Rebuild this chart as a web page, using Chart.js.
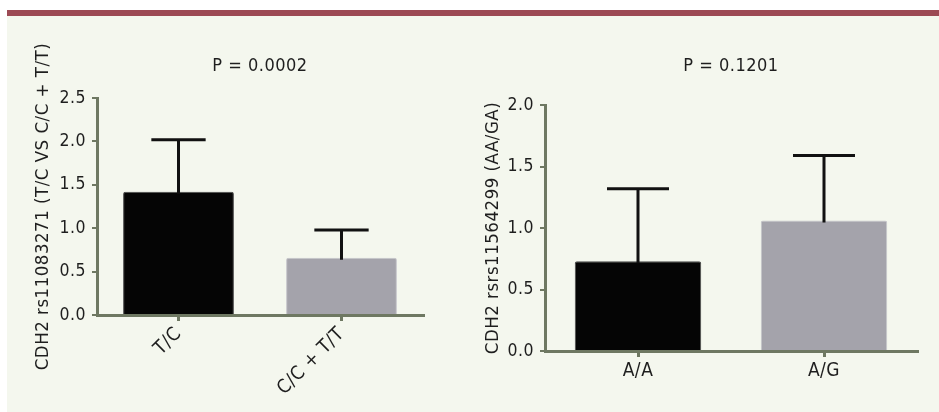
<!DOCTYPE html>
<html>
<head>
<meta charset="utf-8">
<script src="https://cdn.jsdelivr.net/npm/chart.js@4.4.1/dist/chart.umd.min.js"></script>
<style>
    html, body { margin: 0; padding: 0; background: #ffffff; }
    #page { position: relative; width: 939px; height: 412px; overflow: hidden; background: #ffffff; }
    #topbar { position: absolute; left: 7px; top: 10px; width: 932px; height: 6px; background: #9c4a54; }
    #panel { position: absolute; left: 7px; top: 16px; width: 932px; height: 396px; background: #f4f7ee; }
    canvas { position: absolute; top: 16px; }
    #left-chart { left: 0; }
    #right-chart { left: 470px; }
</style>
</head>
<body>
<div id="page">
    <div id="topbar"></div>
    <div id="panel"></div>
    <canvas id="left-chart" width="470" height="396"></canvas>
    <canvas id="right-chart" width="469" height="396"></canvas>
</div>
<script>
// Left panel: CDH2 rs11083271
const leftCategories = ['T/C', 'C/C + T/T'];
const leftMeans = [1.42, 0.66];
const leftErrors = [0.60, 0.32];
const leftTicks = ['0.0', '0.5', '1.0', '1.5', '2.0', '2.5'];
const leftTitle = 'P = 0.0002';
const leftAxisTitle = 'CDH2 rs11083271 (T/C VS C/C + T/T)';

// Right panel: CDH2 rs11564299
const rightCategories = ['A/A', 'A/G'];
const rightMeans = [0.73, 1.06];
const rightErrors = [0.59, 0.53];
const rightTicks = ['0.0', '0.5', '1.0', '1.5', '2.0'];
const rightTitle = 'P = 0.1201';
const rightAxisTitle = 'CDH2 rsrs11564299 (AA/GA)';

const FONT = "'DejaVu Sans Condensed', 'Liberation Sans Narrow', sans-serif";
const AXIS = '#6e7862';
const TEXT = '#1e1e1e';

// the figure's typeface has slightly loose tracking
const tracking = {
    id: 'tracking',
    beforeUpdate(chart) { chart.ctx.letterSpacing = '0.5px'; },
    beforeDraw(chart) { chart.ctx.letterSpacing = '0.5px'; }
};

// draws the upward SD whiskers on top of each bar
const errorBars = {
    id: 'errorBars',
    afterDatasetsDraw(chart) {
        const ctx = chart.ctx;
        const y = chart.scales.y;
        const meta = chart.getDatasetMeta(0);
        const errs = chart.options.plugins.errorBars.values;
        const means = chart.data.datasets[0].data;
        ctx.save();
        ctx.strokeStyle = '#111111';
        ctx.lineWidth = 3;
        ctx.lineCap = 'butt';
        meta.data.forEach((bar, i) => {
            const top = y.getPixelForValue(means[i] + errs[i]);
            const base = y.getPixelForValue(means[i]);
            const half = bar.width * 0.245;
            ctx.beginPath();
            ctx.moveTo(bar.x, base + 2);
            ctx.lineTo(bar.x, top);
            ctx.moveTo(bar.x - half, top);
            ctx.lineTo(bar.x + half, top);
            ctx.stroke();
        });
        ctx.restore();
    }
};

function makeChart(id, cfg) {
    const maxVal = parseFloat(cfg.ticks[cfg.ticks.length - 1]);
    return new Chart(document.getElementById(id), {
        type: 'bar',
        data: {
            labels: cfg.categories,
            datasets: [{
                data: cfg.means,
                backgroundColor: ['#050505', '#a4a3ab'],
                borderColor: ['#4a4a4a', '#c5c5cb'],
                borderWidth: 1,
                borderRadius: 2,
                borderSkipped: 'bottom',
                barPercentage: 0.68,
                categoryPercentage: 1.0
            }]
        },
        options: {
            responsive: false,
            animation: false,
            layout: { padding: cfg.padding },
            plugins: {
                legend: { display: false },
                tooltip: { enabled: false },
                title: {
                    display: true,
                    fullSize: false,
                    text: cfg.title,
                    color: TEXT,
                    font: { family: FONT, size: 18, weight: 'normal', lineHeight: 1.2 },
                    padding: { top: 0, bottom: cfg.titleGap }
                },
                errorBars: { values: cfg.errors }
            },
            scales: {
                x: {
                    offset: true,
                    border: { display: true, color: AXIS, width: 3 },
                    grid: { display: true, offset: false, drawOnChartArea: false, drawTicks: true, tickLength: 6, color: AXIS, lineWidth: 3 },
                    ticks: {
                        color: TEXT,
                        font: { family: FONT, size: 19 },
                        padding: cfg.rotate ? 2 : 3,
                        maxRotation: cfg.rotate,
                        minRotation: cfg.rotate,
                        autoSkip: false
                    },
                    afterFit: (scale) => { scale.height = cfg.xHeight; }
                },
                y: {
                    min: 0,
                    max: maxVal,
                    border: { display: true, color: AXIS, width: 3 },
                    grid: { display: true, drawOnChartArea: false, drawTicks: true, tickLength: 5, color: AXIS, lineWidth: 2 },
                    ticks: {
                        stepSize: 0.5,
                        color: TEXT,
                        font: { family: FONT, size: 17.5 },
                        padding: 6,
                        callback: (v) => cfg.ticks[Math.round(v / 0.5)]
                    },
                    title: {
                        display: true,
                        text: cfg.axisTitle,
                        color: TEXT,
                        font: { family: FONT, size: 18.5, lineHeight: 1.2 },
                        padding: 0
                    },
                    afterFit: (scale) => { scale.width = cfg.yWidth; }
                }
            }
        },
        plugins: [tracking, errorBars]
    });
}

makeChart('left-chart', {
    categories: leftCategories, means: leftMeans, errors: leftErrors, ticks: leftTicks,
    title: leftTitle, axisTitle: leftAxisTitle, rotate: 45,
    padding: { top: 40, left: 32, right: 47, bottom: 0 },
    titleGap: 20.4, xHeight: 97, yWidth: 65
});

makeChart('right-chart', {
    categories: rightCategories, means: rightMeans, errors: rightErrors, ticks: rightTicks,
    title: rightTitle, axisTitle: rightAxisTitle, rotate: 0,
    padding: { top: 40, left: 12, right: 22, bottom: 0 },
    titleGap: 27.4, xHeight: 61, yWidth: 63
});
</script>
</body>
</html>
